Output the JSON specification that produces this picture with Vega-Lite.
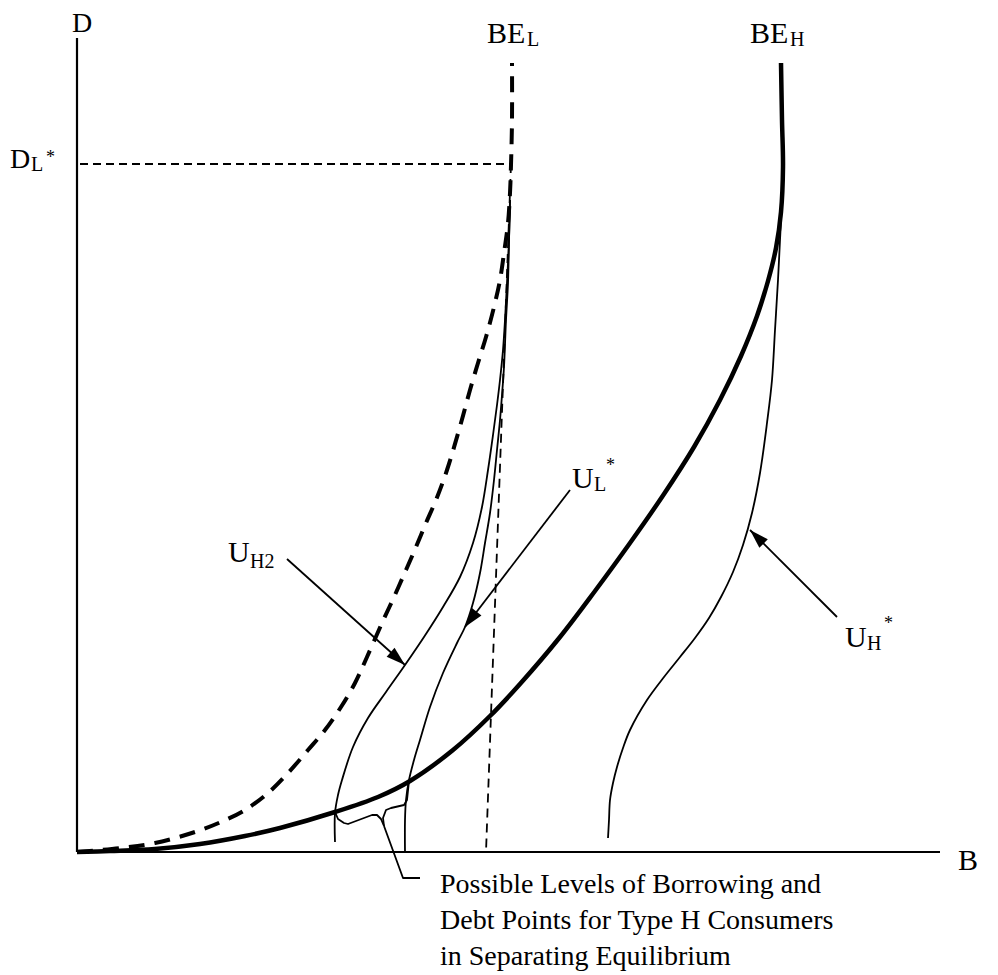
{
  "$schema": "https://vega.github.io/schema/vega-lite/v6.json",
  "width": 998,
  "height": 975,
  "autosize": {"type": "none"},
  "padding": 0,
  "background": "white",
  "config": {"view": {"stroke": null}, "text": {"font": "Liberation Serif", "color": "black"}},
  "datasets": {
    "smooth": [
      {"s":"BE_L","i":0,"b":0,"d":0},{"s":"BE_L","i":1,"b":4.3,"d":0.4},{"s":"BE_L","i":2,"b":7.8,"d":0.9},{"s":"BE_L","i":3,"b":11.8,"d":2.0},{"s":"BE_L","i":4,"b":14.4,"d":3.0},{"s":"BE_L","i":5,"b":16.8,"d":4.2},{"s":"BE_L","i":6,"b":19.1,"d":5.9},{"s":"BE_L","i":7,"b":21.1,"d":7.9},{"s":"BE_L","i":8,"b":23.1,"d":10.2},{"s":"BE_L","i":9,"b":24.8,"d":12.2},{"s":"BE_L","i":10,"b":26.4,"d":14.5},{"s":"BE_L","i":11,"b":27.8,"d":16.9},{"s":"BE_L","i":12,"b":29.0,"d":19.5},{"s":"BE_L","i":13,"b":30.5,"d":22.9},{"s":"BE_L","i":14,"b":31.7,"d":25.5},{"s":"BE_L","i":15,"b":32.9,"d":28.2},{"s":"BE_L","i":16,"b":33.9,"d":30.5},{"s":"BE_L","i":17,"b":34.9,"d":32.9},{"s":"BE_L","i":18,"b":35.9,"d":35.2},{"s":"BE_L","i":19,"b":37.0,"d":38.2},{"s":"BE_L","i":20,"b":38.4,"d":42.9},{"s":"BE_L","i":21,"b":39.3,"d":46.2},{"s":"BE_L","i":22,"b":40.1,"d":48.9},{"s":"BE_L","i":23,"b":40.9,"d":51.5},{"s":"BE_L","i":24,"b":41.7,"d":54.5},{"s":"BE_L","i":25,"b":42.3,"d":57.2},{"s":"BE_L","i":26,"b":42.7,"d":59.9},{"s":"BE_L","i":27,"b":43.1,"d":62.9},{"s":"BE_L","i":28,"b":43.3,"d":65.9},{"s":"BE_L","i":29,"b":43.4,"d":68.7},{"s":"BE_L","i":30,"b":43.5,"d":73.2},{"s":"BE_L","i":31,"b":43.5,"d":78.9},
      {"s":"BE_H","i":0,"b":0,"d":0},{"s":"BE_H","i":1,"b":3.3,"d":0.1},{"s":"BE_H","i":2,"b":7.8,"d":0.3},{"s":"BE_H","i":3,"b":12.3,"d":0.8},{"s":"BE_H","i":4,"b":16.8,"d":1.6},{"s":"BE_H","i":5,"b":20.3,"d":2.4},{"s":"BE_H","i":6,"b":25.8,"d":4.0},{"s":"BE_H","i":7,"b":30.1,"d":5.5},{"s":"BE_H","i":8,"b":33.3,"d":7.1},{"s":"BE_H","i":9,"b":37.6,"d":10.2},{"s":"BE_H","i":10,"b":41.3,"d":13.6},{"s":"BE_H","i":11,"b":44.3,"d":16.8},{"s":"BE_H","i":12,"b":48.3,"d":21.5},{"s":"BE_H","i":13,"b":51.8,"d":26.1},{"s":"BE_H","i":14,"b":55.3,"d":30.9},{"s":"BE_H","i":15,"b":58.7,"d":35.8},{"s":"BE_H","i":16,"b":61.7,"d":40.5},{"s":"BE_H","i":17,"b":64.3,"d":45.2},{"s":"BE_H","i":18,"b":66.4,"d":49.6},{"s":"BE_H","i":19,"b":68.0,"d":53.6},{"s":"BE_H","i":20,"b":69.1,"d":57.1},{"s":"BE_H","i":21,"b":69.9,"d":60.4},{"s":"BE_H","i":22,"b":70.4,"d":64.0},{"s":"BE_H","i":23,"b":70.6,"d":68.5},{"s":"BE_H","i":24,"b":70.5,"d":73.2},{"s":"BE_H","i":25,"b":70.4,"d":78.9},
      {"s":"U_H2","i":0,"b":25.8,"d":1.0},{"s":"U_H2","i":1,"b":25.8,"d":3.9},{"s":"U_H2","i":2,"b":26.1,"d":5.7},{"s":"U_H2","i":3,"b":26.5,"d":7.2},{"s":"U_H2","i":4,"b":27.6,"d":10.5},{"s":"U_H2","i":5,"b":29.1,"d":13.4},{"s":"U_H2","i":6,"b":30.9,"d":16.0},{"s":"U_H2","i":7,"b":32.8,"d":18.7},{"s":"U_H2","i":8,"b":34.7,"d":21.5},{"s":"U_H2","i":9,"b":36.6,"d":24.5},{"s":"U_H2","i":10,"b":38.3,"d":27.5},{"s":"U_H2","i":11,"b":39.6,"d":30.9},{"s":"U_H2","i":12,"b":40.5,"d":34.5},{"s":"U_H2","i":13,"b":41.1,"d":38.2},{"s":"U_H2","i":14,"b":41.6,"d":41.7},{"s":"U_H2","i":15,"b":42.0,"d":44.7},{"s":"U_H2","i":16,"b":42.3,"d":47.2},{"s":"U_H2","i":17,"b":42.6,"d":50.2},{"s":"U_H2","i":18,"b":42.8,"d":53.2},{"s":"U_H2","i":19,"b":43.0,"d":56.9},{"s":"U_H2","i":20,"b":43.2,"d":61.2},{"s":"U_H2","i":21,"b":43.3,"d":65.2},
      {"s":"U_L","i":0,"b":32.8,"d":0},{"s":"U_L","i":1,"b":32.8,"d":3.2},{"s":"U_L","i":2,"b":32.9,"d":5.2},{"s":"U_L","i":3,"b":33.2,"d":7.2},{"s":"U_L","i":4,"b":33.7,"d":9.2},{"s":"U_L","i":5,"b":34.3,"d":11.2},{"s":"U_L","i":6,"b":35.3,"d":14.5},{"s":"U_L","i":7,"b":36.6,"d":17.9},{"s":"U_L","i":8,"b":38.0,"d":20.9},{"s":"U_L","i":9,"b":38.8,"d":22.5},{"s":"U_L","i":10,"b":39.6,"d":24.9},{"s":"U_L","i":11,"b":40.3,"d":27.9},{"s":"U_L","i":12,"b":40.8,"d":30.9},{"s":"U_L","i":13,"b":41.3,"d":33.9},{"s":"U_L","i":14,"b":41.7,"d":37.2},{"s":"U_L","i":15,"b":42.0,"d":40.2},{"s":"U_L","i":16,"b":42.3,"d":43.2},{"s":"U_L","i":17,"b":42.5,"d":45.7},{"s":"U_L","i":18,"b":42.7,"d":48.5},{"s":"U_L","i":19,"b":42.9,"d":53.2},{"s":"U_L","i":20,"b":43.1,"d":56.9},{"s":"U_L","i":21,"b":43.2,"d":61.2},{"s":"U_L","i":22,"b":43.3,"d":65.2},
      {"s":"U_H","i":0,"b":53.1,"d":1.4},{"s":"U_H","i":1,"b":53.2,"d":3.2},{"s":"U_H","i":2,"b":53.3,"d":5.2},{"s":"U_H","i":3,"b":53.6,"d":6.9},{"s":"U_H","i":4,"b":54.0,"d":8.5},{"s":"U_H","i":5,"b":54.6,"d":10.4},{"s":"U_H","i":6,"b":55.3,"d":12.2},{"s":"U_H","i":7,"b":57.0,"d":15.2},{"s":"U_H","i":8,"b":58.7,"d":17.5},{"s":"U_H","i":9,"b":60.3,"d":19.5},{"s":"U_H","i":10,"b":61.8,"d":21.4},{"s":"U_H","i":11,"b":63.2,"d":23.4},{"s":"U_H","i":12,"b":64.4,"d":25.5},{"s":"U_H","i":13,"b":65.6,"d":28.0},{"s":"U_H","i":14,"b":66.6,"d":30.7},{"s":"U_H","i":15,"b":67.5,"d":33.9},{"s":"U_H","i":16,"b":68.3,"d":37.9},{"s":"U_H","i":17,"b":69.0,"d":42.9},{"s":"U_H","i":18,"b":69.5,"d":47.2},{"s":"U_H","i":19,"b":69.8,"d":52.2},{"s":"U_H","i":20,"b":70.1,"d":57.2},{"s":"U_H","i":21,"b":70.3,"d":61.2},{"s":"U_H","i":22,"b":70.5,"d":65.2},{"s":"U_H","i":23,"b":70.6,"d":68.5}
    ],
    "poly": [
      {"s":"axisY","i":0,"b":0,"d":0},{"s":"axisY","i":1,"b":0,"d":81.4},
      {"s":"axisX","i":0,"b":0,"d":0},{"s":"axisX","i":1,"b":86.3,"d":0},
      {"s":"bracketL","i":0,"b":25.8,"d":4.0},{"s":"bracketL","i":1,"b":26.1,"d":3.3},{"s":"bracketL","i":2,"b":26.7,"d":2.9},{"s":"bracketL","i":3,"b":27.1,"d":2.8},{"s":"bracketL","i":4,"b":29.5,"d":3.7},{"s":"bracketL","i":5,"b":30.0,"d":3.7},{"s":"bracketL","i":6,"b":30.4,"d":3.3},{"s":"bracketL","i":7,"b":30.7,"d":2.6},
      {"s":"bracketR","i":0,"b":30.7,"d":2.6},{"s":"bracketR","i":1,"b":30.6,"d":3.4},{"s":"bracketR","i":2,"b":30.9,"d":4.2},{"s":"bracketR","i":3,"b":31.4,"d":4.4},{"s":"bracketR","i":4,"b":32.7,"d":4.7},{"s":"bracketR","i":5,"b":33.0,"d":5.2},{"s":"bracketR","i":6,"b":33.2,"d":7.1},
      {"s":"leader","i":0,"b":30.7,"d":2.6},{"s":"leader","i":1,"b":32.6,"d":-2.6},{"s":"leader","i":2,"b":34.3,"d":-2.6},
      {"s":"arrowH2","i":0,"b":21.0,"d":29.3},{"s":"arrowH2","i":1,"b":32.8,"d":18.7},
      {"s":"arrowL","i":0,"b":49.3,"d":36.2},{"s":"arrowL","i":1,"b":38.8,"d":22.5},
      {"s":"arrowH","i":0,"b":76.0,"d":23.5},{"s":"arrowH","i":1,"b":67.3,"d":32.2}
    ],
    "dashes": [
      {"s":"hline","i":0,"b":0.3,"d":68.8},{"s":"hline","i":1,"b":43.4,"d":68.8},
      {"s":"vline","i":0,"b":43.4,"d":68.8},{"s":"vline","i":1,"b":40.9,"d":0}
    ],
    "heads": [
      {"arrow":"U_H2","b":32.8,"d":18.7},
      {"arrow":"U_L","b":38.8,"d":22.5},
      {"arrow":"U_H","b":67.3,"d":32.2}
    ],
    "labels": [
      {"kind":"axis","t":"D","b":-0.5,"d":82.0},
      {"kind":"axis","t":"D","b":-6.7,"d":68.4},
      {"kind":"main","t":"BE","b":41.0,"d":80.9},
      {"kind":"main","t":"BE","b":67.3,"d":80.9},
      {"kind":"main","t":"U","b":15.1,"d":29.0},
      {"kind":"main","t":"U","b":49.5,"d":36.4},
      {"kind":"main","t":"U","b":76.8,"d":20.5},
      {"kind":"main","t":"B","b":88.1,"d":-1.8},
      {"kind":"sub","t":"L","b":-4.6,"d":68.1},
      {"kind":"sub","t":"L","b":45.0,"d":80.6},
      {"kind":"sub","t":"H","b":71.3,"d":80.6},
      {"kind":"sub","t":"H2","b":17.3,"d":28.4},
      {"kind":"sub","t":"L","b":51.7,"d":36.1},
      {"kind":"sub","t":"H","b":79.0,"d":20.2},
      {"kind":"star","t":"*","b":-3.1,"d":68.9},
      {"kind":"star","t":"*","b":52.9,"d":38.1},
      {"kind":"star","t":"*","b":80.7,"d":22.3},
      {"kind":"caption","t":"Possible Levels of Borrowing and","b":36.3,"d":-4.1},
      {"kind":"caption","t":"Debt Points for Type H Consumers","b":36.3,"d":-7.7},
      {"kind":"caption","t":"in Separating Equilibrium","b":36.3,"d":-11.3}
    ]
  },
  "encoding": {
    "x": {"field": "b", "type": "quantitative", "scale": {"domain": [-7.7, 92.1], "nice": false, "zero": false}, "axis": null},
    "y": {"field": "d", "type": "quantitative", "scale": {"domain": [-12.3, 85.2], "nice": false, "zero": false}, "axis": null}
  },
  "layer": [
    {
      "data": {"name": "dashes"},
      "transform": [{"filter": "datum.s === 'hline'"}],
      "mark": {"type": "line", "color": "black", "strokeWidth": 2, "strokeDash": [8, 5]},
      "encoding": {"order": {"field": "i", "type": "quantitative"}}
    },
    {
      "data": {"name": "dashes"},
      "transform": [{"filter": "datum.s === 'vline'"}],
      "mark": {"type": "line", "color": "black", "strokeWidth": 1.8, "strokeDash": [9, 6]},
      "encoding": {"order": {"field": "i", "type": "quantitative"}}
    },
    {
      "data": {"name": "poly"},
      "transform": [{"filter": "datum.s === 'axisX' || datum.s === 'axisY'"}],
      "mark": {"type": "line", "color": "black", "strokeWidth": 2.2},
      "encoding": {"detail": {"field": "s"}, "order": {"field": "i", "type": "quantitative"}}
    },
    {
      "data": {"name": "poly"},
      "transform": [{"filter": "datum.s !== 'axisX' && datum.s !== 'axisY'"}],
      "mark": {"type": "line", "color": "black", "strokeWidth": 1.8, "strokeJoin": "round"},
      "encoding": {"detail": {"field": "s"}, "order": {"field": "i", "type": "quantitative"}}
    },
    {
      "data": {"name": "smooth"},
      "transform": [{"filter": "datum.s === 'U_H2' || datum.s === 'U_L' || datum.s === 'U_H'"}],
      "mark": {"type": "line", "color": "black", "strokeWidth": 1.8, "interpolate": "catmull-rom"},
      "encoding": {"detail": {"field": "s"}, "order": {"field": "i", "type": "quantitative"}}
    },
    {
      "data": {"name": "smooth"},
      "transform": [{"filter": "datum.s === 'BE_H'"}],
      "mark": {"type": "line", "color": "black", "strokeWidth": 4.5, "interpolate": "catmull-rom"},
      "encoding": {"order": {"field": "i", "type": "quantitative"}}
    },
    {
      "data": {"name": "smooth"},
      "transform": [{"filter": "datum.s === 'BE_L'"}],
      "mark": {"type": "line", "color": "black", "strokeWidth": 4, "strokeDash": [16, 10], "interpolate": "catmull-rom"},
      "encoding": {"order": {"field": "i", "type": "quantitative"}}
    },
    {
      "data": {"name": "heads"},
      "transform": [{"filter": "datum.arrow === 'U_H2'"}],
      "mark": {"type": "point", "shape": "M0,0L-0.5,1.6L0.5,1.6Z", "size": 576, "filled": true, "color": "black", "opacity": 1, "angle": 131.4}
    },
    {
      "data": {"name": "heads"},
      "transform": [{"filter": "datum.arrow === 'U_L'"}],
      "mark": {"type": "point", "shape": "M0,0L-0.5,1.6L0.5,1.6Z", "size": 576, "filled": true, "color": "black", "opacity": 1, "angle": 217.5}
    },
    {
      "data": {"name": "heads"},
      "transform": [{"filter": "datum.arrow === 'U_H'"}],
      "mark": {"type": "point", "shape": "M0,0L-0.5,1.6L0.5,1.6Z", "size": 576, "filled": true, "color": "black", "opacity": 1, "angle": 315}
    },
    {
      "data": {"name": "labels"},
      "transform": [{"filter": "datum.kind === 'axis'"}],
      "mark": {"type": "text", "align": "left", "baseline": "alphabetic", "fontSize": 28, "font": "Liberation Serif"},
      "encoding": {"text": {"field": "t"}}
    },
    {
      "data": {"name": "labels"},
      "transform": [{"filter": "datum.kind === 'main'"}],
      "mark": {"type": "text", "align": "left", "baseline": "alphabetic", "fontSize": 30, "font": "Liberation Serif"},
      "encoding": {"text": {"field": "t"}}
    },
    {
      "data": {"name": "labels"},
      "transform": [{"filter": "datum.kind === 'sub'"}],
      "mark": {"type": "text", "align": "left", "baseline": "alphabetic", "fontSize": 20, "font": "Liberation Serif"},
      "encoding": {"text": {"field": "t"}}
    },
    {
      "data": {"name": "labels"},
      "transform": [{"filter": "datum.kind === 'star'"}],
      "mark": {"type": "text", "align": "left", "baseline": "alphabetic", "fontSize": 18, "font": "Liberation Serif"},
      "encoding": {"text": {"field": "t"}}
    },
    {
      "data": {"name": "labels"},
      "transform": [{"filter": "datum.kind === 'caption'"}],
      "mark": {"type": "text", "align": "left", "baseline": "alphabetic", "fontSize": 28, "font": "Liberation Serif"},
      "encoding": {"text": {"field": "t"}}
    }
  ]
}
